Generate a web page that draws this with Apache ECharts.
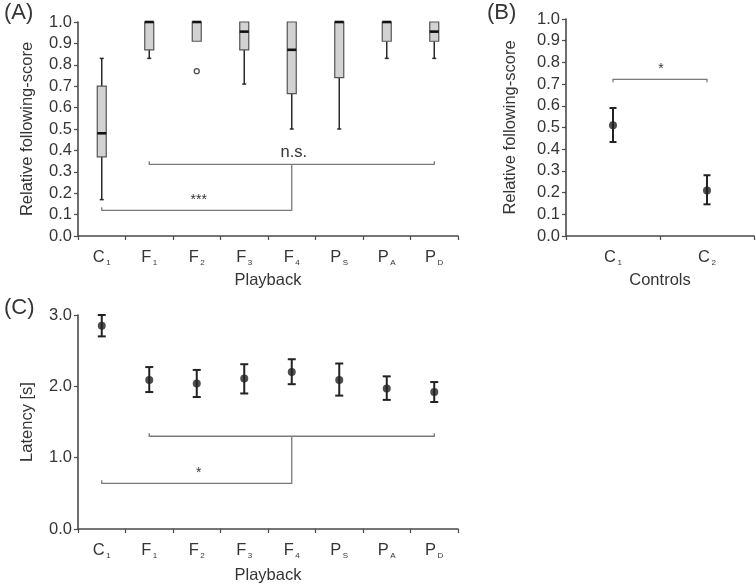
<!DOCTYPE html>
<html>
<head>
<meta charset="utf-8">
<script src="https://cdn.jsdelivr.net/npm/echarts@6/dist/echarts.min.js"></script>
<style>
html,body{margin:0;padding:0;background:#fff;}
#chart{width:756px;height:585px;}
</style>
</head>
<body>
<div id="chart"></div>
<script>
// ---------- data ----------
const catMain = ['C', 'F', 'F', 'F', 'F', 'P', 'P', 'P'];
const catSub  = ['1', '1', '2', '3', '4', 'S', 'A', 'D'];
const categories = catMain.map((m, i) => m + catSub[i]);

// Panel A: box plots (relative following-score)
const boxMin = [0.17, 0.83, 0.91, 0.71, 0.50, 0.50, 0.83, 0.83];
const boxQ1  = [0.37, 0.87, 0.91, 0.87, 0.665, 0.74, 0.91, 0.91];
const boxMed = [0.48, 1.00, 1.00, 0.955, 0.87, 1.00, 1.00, 0.955];
const boxQ3  = [0.70, 1.00, 1.00, 1.00, 1.00, 1.00, 1.00, 1.00];
const boxMax = [0.83, 1.00, 1.00, 1.00, 1.00, 1.00, 1.00, 1.00];
const outlierCat = [2];
const outlierVal = [0.77];

// Panel B: controls
const ctrlMain = ['C', 'C'];
const ctrlSub  = ['1', '2'];
const ctrlCats = ['C1', 'C2'];
const ctrlMean = [0.51, 0.21];
const ctrlLow  = [0.433, 0.146];
const ctrlHigh = [0.59, 0.28];

// Panel C: latency
const latMean = [2.85, 2.09, 2.04, 2.11, 2.20, 2.09, 1.97, 1.92];
const latLow  = [2.70, 1.92, 1.85, 1.90, 2.03, 1.87, 1.81, 1.78];
const latHigh = [3.00, 2.27, 2.23, 2.31, 2.38, 2.32, 2.14, 2.06];

// significance annotations
const sigA = { groupFrom: 1, groupTo: 7, groupY: 0.335, groupLabel: 'n.s.', ctrl: 0, ctrlY: 0.12, ctrlLabel: '***' };
const sigC = { groupFrom: 1, groupTo: 7, groupY: 1.30, groupLabel: '', ctrl: 0, ctrlY: 0.64, ctrlLabel: '*' };
const sigB = { from: 0, to: 1, y: 0.722, label: '*' };

// ---------- styles ----------
const FONT = "'Liberation Sans', Arial, Helvetica, sans-serif";
const TXT = '#353535';
const AXC = '#4a4a4a';
const BRC = '#7a7a7a';
const FS = 16.5;

function catLabel(main, sub) {
  return {
    interval: 0,
    margin: 11,
    formatter: function (v, i) { return '{m|' + main[i] + '}{s|' + sub[i] + '}'; },
    rich: {
      m: { fontSize: FS, fontFamily: FONT, color: TXT, lineHeight: 20 },
      s: { fontSize: 8, fontFamily: FONT, color: TXT, lineHeight: 12, verticalAlign: 'bottom', padding: [0, 0, 0, 1.5] }
    }
  };
}

function xAxisCfg(grid, data, main, sub, name, gap) {
  return {
    type: 'category', gridIndex: grid, data: data,
    boundaryGap: true,
    axisLine: { show: true, lineStyle: { color: AXC, width: 1.6 } },
    axisTick: { show: true, inside: false, length: 4, lineStyle: { color: AXC, width: 1.2 } },
    axisLabel: catLabel(main, sub),
    splitLine: { show: false },
    name: name, nameLocation: 'middle', nameGap: gap,
    nameTextStyle: { fontSize: FS, fontFamily: FONT, color: TXT }
  };
}

function yAxisCfg(grid, min, max, interval, name, gap) {
  return {
    type: 'value', gridIndex: grid, min: min, max: max, interval: interval,
    axisLine: { show: true, lineStyle: { color: AXC, width: 1.6 } },
    axisTick: { show: true, inside: false, length: 4, lineStyle: { color: AXC, width: 1.2 } },
    axisLabel: { margin: 6, fontSize: FS, fontFamily: FONT, color: TXT,
      formatter: function (v) { return v.toFixed(1); } },
    splitLine: { show: false },
    name: name, nameLocation: 'middle', nameGap: gap, nameRotate: 90,
    nameTextStyle: { fontSize: FS, fontFamily: FONT, color: TXT }
  };
}

// box plot renderer
function renderBox(params, api) {
  const x = api.value(0);
  const pMin = api.coord([x, api.value(1)]);
  const pQ1 = api.coord([x, api.value(2)]);
  const pMed = api.coord([x, api.value(3)]);
  const pQ3 = api.coord([x, api.value(4)]);
  const pMax = api.coord([x, api.value(5)]);
  const cx = pMed[0];
  const bw = 9, cw = 4;
  const children = [];
  if (pMin[1] - pQ1[1] > 0.5) {
    children.push({ type: 'line', shape: { x1: cx, y1: pQ1[1], x2: cx, y2: pMin[1] }, style: { stroke: '#2a2a2a', lineWidth: 1.5 } });
    children.push({ type: 'line', shape: { x1: cx - cw / 2, y1: pMin[1], x2: cx + cw / 2, y2: pMin[1] }, style: { stroke: '#2a2a2a', lineWidth: 1.5 } });
  }
  if (pQ3[1] - pMax[1] > 0.5) {
    children.push({ type: 'line', shape: { x1: cx, y1: pQ3[1], x2: cx, y2: pMax[1] }, style: { stroke: '#2a2a2a', lineWidth: 1.5 } });
    children.push({ type: 'line', shape: { x1: cx - cw / 2, y1: pMax[1], x2: cx + cw / 2, y2: pMax[1] }, style: { stroke: '#2a2a2a', lineWidth: 1.5 } });
  }
  children.push({ type: 'rect', shape: { x: cx - bw / 2, y: pQ3[1], width: bw, height: pQ1[1] - pQ3[1] },
    style: { fill: '#d2d2d2', stroke: '#555', lineWidth: 1.2 } });
  children.push({ type: 'line', shape: { x1: cx - bw / 2, y1: pMed[1], x2: cx + bw / 2, y2: pMed[1] },
    style: { stroke: '#111', lineWidth: 2.6 } });
  return { type: 'group', children: children };
}

// error bar renderer
function makeErr(capW) {
  return function (params, api) {
    const x = api.value(0);
    const lo = api.coord([x, api.value(1)]);
    const hi = api.coord([x, api.value(2)]);
    const cx = lo[0];
    const st = { stroke: '#222', lineWidth: 2 };
    return { type: 'group', children: [
      { type: 'line', shape: { x1: cx, y1: lo[1], x2: cx, y2: hi[1] }, style: st },
      { type: 'line', shape: { x1: cx - capW / 2, y1: lo[1], x2: cx + capW / 2, y2: lo[1] }, style: st },
      { type: 'line', shape: { x1: cx - capW / 2, y1: hi[1], x2: cx + capW / 2, y2: hi[1] }, style: st }
    ] };
  };
}

const sigItems = { sigA: sigA, sigC: sigC };

// compound significance bracket renderer
function renderSig(params, api) {
  const g1 = api.value(0), g2 = api.value(1), gy = api.value(2), c = api.value(3), cy = api.value(4);
  const gmid = (g1 + g2) / 2;
  const a = api.coord([g1, gy]);
  const b = api.coord([g2, gy]);
  const m = api.coord([gmid, gy]);
  const mc = api.coord([gmid, cy]);
  const cc = api.coord([c, cy]);
  const t = 3;
  const st = { stroke: BRC, lineWidth: 1.3, fill: null };
  const item = sigItems[params.seriesName];
  const children = [
    { type: 'polyline', shape: { points: [[a[0], a[1] - t], [a[0], a[1]], [b[0], b[1]], [b[0], b[1] - t]] }, style: st },
    { type: 'polyline', shape: { points: [[m[0], m[1]], [mc[0], mc[1]], [cc[0], cc[1]], [cc[0], cc[1] - t]] }, style: st }
  ];
  if (item.groupLabel) {
    children.push({ type: 'text', x: m[0] + 2, y: m[1] - 3, style: { text: item.groupLabel, fontSize: FS, fontFamily: FONT, fill: TXT, align: 'center', verticalAlign: 'bottom' } });
  }
  if (item.ctrlLabel) {
    const mx = (cc[0] + mc[0]) / 2;
    children.push({ type: 'text', x: mx + 2, y: cc[1] - 3, style: { text: item.ctrlLabel, fontSize: 14, fontFamily: FONT, fill: TXT, align: 'center', verticalAlign: 'bottom' } });
  }
  return { type: 'group', children: children };
}

function renderSigB(params, api) {
  const a = api.coord([api.value(0), api.value(2)]);
  const b = api.coord([api.value(1), api.value(2)]);
  const t = 3;
  const st = { stroke: BRC, lineWidth: 1.3, fill: null };
  return { type: 'group', children: [
    { type: 'polyline', shape: { points: [[a[0], a[1] + t], [a[0], a[1]], [b[0], b[1]], [b[0], b[1] + t]] }, style: st },
    { type: 'text', x: (a[0] + b[0]) / 2 + 1, y: a[1] - 3, style: { text: sigB.label, fontSize: 14, fontFamily: FONT, fill: TXT, align: 'center', verticalAlign: 'bottom' } }
  ] };
}

const boxData = categories.map((c, i) => [i, boxMin[i], boxQ1[i], boxMed[i], boxQ3[i], boxMax[i]]);
const outlierData = outlierCat.map((c, i) => [c, outlierVal[i]]);
const ctrlErr = ctrlCats.map((c, i) => [i, ctrlLow[i], ctrlHigh[i]]);
const ctrlPts = ctrlCats.map((c, i) => [i, ctrlMean[i]]);
const latErr = categories.map((c, i) => [i, latLow[i], latHigh[i]]);
const latPts = categories.map((c, i) => [i, latMean[i]]);

const chart = echarts.init(document.getElementById('chart'), null, { renderer: 'canvas' });
chart.setOption({
  backgroundColor: '#fff',
  animation: false,
  title: [
    { text: '(A)', left: -1, top: -3, textStyle: { fontSize: 22, fontWeight: 'normal', fontFamily: FONT, color: TXT } },
    { text: '(B)', left: 482, top: -3, textStyle: { fontSize: 22, fontWeight: 'normal', fontFamily: FONT, color: TXT } },
    { text: '(C)', left: -1, top: 292, textStyle: { fontSize: 22, fontWeight: 'normal', fontFamily: FONT, color: TXT } }
  ],
  grid: [
    { left: 78, top: 22, width: 380, height: 214 },
    { left: 566, top: 19, width: 188, height: 217 },
    { left: 78, top: 315, width: 380, height: 214 }
  ],
  xAxis: [
    xAxisCfg(0, categories, catMain, catSub, 'Playback', 36),
    xAxisCfg(1, ctrlCats, ctrlMain, ctrlSub, 'Controls', 36),
    xAxisCfg(2, categories, catMain, catSub, 'Playback', 38)
  ],
  yAxis: [
    yAxisCfg(0, 0, 1, 0.1, 'Relative following-score', 42),
    yAxisCfg(1, 0, 1, 0.1, 'Relative following-score', 47),
    yAxisCfg(2, 0, 3, 1, 'Latency [s]', 42)
  ],
  series: [
    { type: 'custom', name: 'box', xAxisIndex: 0, yAxisIndex: 0, data: boxData, renderItem: renderBox, encode: { x: 0, y: [1, 5] } },
    { type: 'scatter', name: 'outlier', xAxisIndex: 0, yAxisIndex: 0, data: outlierData, symbol: 'circle', symbolSize: 5,
      itemStyle: { color: '#fff', borderColor: '#222', borderWidth: 1.3 } },
    { type: 'custom', name: 'sigA', xAxisIndex: 0, yAxisIndex: 0,
      data: [[sigA.groupFrom, sigA.groupTo, sigA.groupY, sigA.ctrl, sigA.ctrlY]], renderItem: renderSig, encode: { x: 0, y: 2 }, z: 1 },
    { type: 'custom', name: 'errB', xAxisIndex: 1, yAxisIndex: 1, data: ctrlErr, renderItem: makeErr(7), encode: { x: 0, y: [1, 2] } },
    { type: 'scatter', name: 'ptsB', xAxisIndex: 1, yAxisIndex: 1, data: ctrlPts, symbolSize: 8, itemStyle: { color: '#222' }, z: 3 },
    { type: 'custom', name: 'sigB', xAxisIndex: 1, yAxisIndex: 1, data: [[sigB.from, sigB.to, sigB.y]], renderItem: renderSigB, encode: { x: 0, y: 2 } },
    { type: 'custom', name: 'errC', xAxisIndex: 2, yAxisIndex: 2, data: latErr, renderItem: makeErr(8), encode: { x: 0, y: [1, 2] } },
    { type: 'scatter', name: 'ptsC', xAxisIndex: 2, yAxisIndex: 2, data: latPts, symbolSize: 8, itemStyle: { color: '#222' }, z: 3 },
    { type: 'custom', name: 'sigC', xAxisIndex: 2, yAxisIndex: 2,
      data: [[sigC.groupFrom, sigC.groupTo, sigC.groupY, sigC.ctrl, sigC.ctrlY]], renderItem: renderSig, encode: { x: 0, y: 2 }, z: 1 }
  ]
});
</script>
</body>
</html>
